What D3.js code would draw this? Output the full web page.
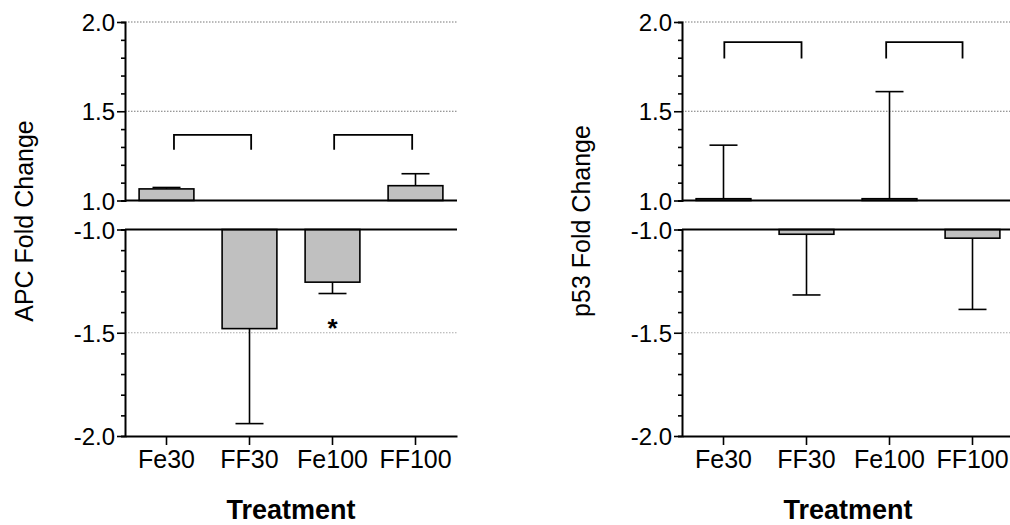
<!DOCTYPE html>
<html>
<head>
<meta charset="utf-8">
<script src="https://cdn.jsdelivr.net/npm/d3@7"></script>
<style>
  html, body { margin: 0; padding: 0; background: #fff; }
  svg { display: block; }
  text { font-family: Arial, "Liberation Sans", Helvetica, sans-serif; fill: #000; }
</style>
</head>
<body>
<svg id="chart" width="1010" height="525"></svg>
<script>
// Treatment groups shared by both panels
const categories = ["Fe30", "FF30", "Fe100", "FF100"];

// APC fold change (mean and SEM); positive values rise from 1.0, negative fall from -1.0
const apcMean = [1.065, -1.48, -1.255, 1.083];
const apcSem  = [0.008, 0.46, 0.055, 0.067];

// p53 fold change (mean and SEM)
const p53Mean = [1.01, -1.023, 1.01, -1.042];
const p53Sem  = [0.30, 0.294, 0.60, 0.345];

// Comparison brackets, given as positions along the category index
const apcBrackets = [
  { from: 0.09, to: 1.02, level: 1.368, leg: 1.284 },
  { from: 2.02, to: 2.96, level: 1.368, leg: 1.284 }
];
const p53Brackets = [
  { from: 0.01, to: 0.94, level: 1.887, leg: 1.795 },
  { from: 1.96, to: 2.88, level: 1.887, leg: 1.795 }
];

// Significance marks
const apcMarks = [{ category: "Fe100", value: -1.47, text: "*" }];
const p53Marks = [];

// Axis tick values of the two broken-axis segments
const upperMajor = [1.0, 1.5, 2.0];
const lowerMajor = [-1.0, -1.5, -2.0];
const upperTicks = d3.range(10, 21).map(v => v / 10);
const lowerTicks = d3.range(-20, -9).map(v => v / 10);
const upperGrid = [1.5, 2.0];
const lowerGrid = [-1.5];

const svg = d3.select("#chart");
// tick labels use a plain hyphen for the minus sign
const fmt = v => d3.format(".1f")(v).replace("\u2212", "-");

function drawPanel(opts) {
  const { x0, title, titleX, means, sems, brackets, marks } = opts;
  const width = 332;
  const g = svg.append("g");

  const x = d3.scaleBand().domain(categories)
    .range([x0, x0 + width]).paddingInner(0.34).paddingOuter(0.17);
  const xi = d3.scaleLinear().domain([-0.5, 3.5]).range([x0, x0 + width]);
  const yTop = d3.scaleLinear().domain([1, 2]).range([200.5, 22]);
  const yBot = d3.scaleLinear().domain([-1, -2]).range([229.5, 436]);
  const seg = v => (v >= 0 ? yTop : yBot);
  const base = v => (v >= 0 ? 1 : -1);

  // dotted gridlines
  g.selectAll("line.gu").data(upperGrid).join("line")
    .attr("x1", x0).attr("x2", x0 + width)
    .attr("y1", d => yTop(d)).attr("y2", d => yTop(d))
    .attr("stroke", "#777").attr("stroke-width", 1).attr("stroke-dasharray", "1.5,1.5");
  g.selectAll("line.gl").data(lowerGrid).join("line")
    .attr("x1", x0).attr("x2", x0 + width)
    .attr("y1", d => yBot(d)).attr("y2", d => yBot(d))
    .attr("stroke", "#aaa").attr("stroke-width", 1).attr("stroke-dasharray", "1.5,1.5");

  const rows = categories.map((c, i) => ({ c, m: means[i], s: sems[i] }));

  // error bars (one-sided, pointing away from the baseline)
  const eb = g.selectAll("g.err").data(rows).join("g");
  eb.append("line")
    .attr("x1", d => x(d.c) + x.bandwidth() / 2).attr("x2", d => x(d.c) + x.bandwidth() / 2)
    .attr("y1", d => seg(d.m)(d.m))
    .attr("y2", d => seg(d.m)(d.m + Math.sign(d.m) * d.s))
    .attr("stroke", "#000").attr("stroke-width", 1.6);
  eb.append("line")
    .attr("x1", d => x(d.c) + x.bandwidth() / 2 - 14).attr("x2", d => x(d.c) + x.bandwidth() / 2 + 14)
    .attr("y1", d => seg(d.m)(d.m + Math.sign(d.m) * d.s))
    .attr("y2", d => seg(d.m)(d.m + Math.sign(d.m) * d.s))
    .attr("stroke", "#000").attr("stroke-width", 1.6);

  // bars
  g.selectAll("rect.bar").data(rows).join("rect")
    .attr("x", d => x(d.c))
    .attr("width", x.bandwidth())
    .attr("y", d => Math.min(seg(d.m)(d.m), seg(d.m)(base(d.m))))
    .attr("height", d => Math.abs(seg(d.m)(d.m) - seg(d.m)(base(d.m))))
    .attr("fill", "#c0c0c0").attr("stroke", "#000").attr("stroke-width", 1.6);

  // baselines of both segments
  g.append("line").attr("x1", x0).attr("x2", x0 + width)
    .attr("y1", yTop(1)).attr("y2", yTop(1)).attr("stroke", "#000").attr("stroke-width", 2);
  g.append("line").attr("x1", x0).attr("x2", x0 + width)
    .attr("y1", yBot(-1)).attr("y2", yBot(-1)).attr("stroke", "#000").attr("stroke-width", 2);

  // y axes: major ticks labelled, minor ticks every 0.1
  function yAxis(scale, ticks, major) {
    const ax = g.append("g").attr("transform", `translate(${x0},0)`)
      .call(d3.axisLeft(scale).tickValues(ticks).tickSizeOuter(0)
        .tickSize(4).tickFormat(""));
    ax.select(".domain").attr("stroke-width", 2);
    ax.selectAll(".tick line")
      .attr("x2", d => (major.some(m => Math.abs(m - d) < 1e-9) ? -8 : -4))
      .attr("stroke-width", 1.6);
    ax.selectAll(".tick").filter(d => major.some(m => Math.abs(m - d) < 1e-9))
      .append("text")
      .attr("x", -10).attr("dy", "0.36em")
      .attr("text-anchor", "end")
      .style("font-size", "24px")
      .attr("fill", "#000")
      .text(fmt);
  }
  yAxis(yTop, upperTicks, upperMajor);
  yAxis(yBot, lowerTicks, lowerMajor);

  // x axis along the bottom of the lower segment
  const xa = g.append("g").attr("transform", `translate(0,${yBot(-2)})`)
    .call(d3.axisBottom(x).tickSize(9).tickSizeOuter(0));
  xa.select(".domain").attr("stroke-width", 2);
  xa.selectAll(".tick line").attr("stroke-width", 1.6);
  xa.selectAll(".tick text").attr("y", 14).attr("dy", "0.71em")
    .style("font-size", "25px").attr("fill", "#000");

  // comparison brackets
  g.selectAll("path.br").data(brackets).join("path")
    .attr("d", d => `M${xi(d.from)},${yTop(d.leg)}V${yTop(d.level)}H${xi(d.to)}V${yTop(d.leg)}`)
    .attr("fill", "none").attr("stroke", "#000").attr("stroke-width", 1.8);

  // significance marks
  g.selectAll("text.mark").data(marks).join("text")
    .attr("x", d => x(d.category) + x.bandwidth() / 2)
    .attr("y", d => seg(d.value)(d.value) + 10)
    .attr("text-anchor", "middle")
    .style("font-size", "26px").style("font-weight", "bold")
    .text(d => d.text);

  // axis titles
  g.append("text")
    .attr("transform", `translate(${titleX},221) rotate(-90)`)
    .attr("text-anchor", "middle")
    .style("font-size", "25px")
    .text(title);
  g.append("text")
    .attr("x", x0 + width / 2).attr("y", 519)
    .attr("text-anchor", "middle")
    .style("font-size", "27px").style("font-weight", "bold")
    .text("Treatment");
}

drawPanel({ x0: 125, title: "APC Fold Change", titleX: 33, means: apcMean, sems: apcSem,
  brackets: apcBrackets, marks: apcMarks });
drawPanel({ x0: 682, title: "p53 Fold Change", titleX: 590, means: p53Mean, sems: p53Sem,
  brackets: p53Brackets, marks: p53Marks });
</script>
</body>
</html>
